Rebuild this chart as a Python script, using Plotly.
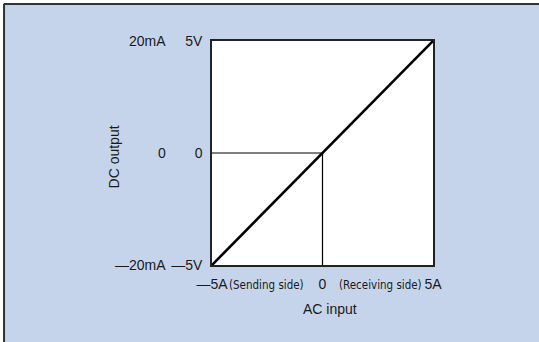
import plotly.graph_objects as go

# AC input (A) vs DC output (V / mA)
ac_input = [-5, 0, 5]
dc_volts = [-5, 0, 5]
dc_ma = [-20, 0, 20]

x_ticktext = ["—5A", "0", "5A"]
y_ticktext = ["—5V", "0", "5V"]
ma_ticktext = ["—20mA", "0", "20mA"]

FONT = "Liberation Sans, Arial, Helvetica, sans-serif"
NARROW = "Liberation Sans Narrow, DejaVu Sans Condensed, Arial Narrow, sans-serif"
INK = "#1a1a1a"
BLUE = "#c6d4eb"

fig = go.Figure()

# guide lines to the zero point
fig.add_trace(go.Scatter(x=[ac_input[0], ac_input[1]], y=[dc_volts[1], dc_volts[1]],
                         mode="lines", line=dict(color="#000000", width=1.2), hoverinfo="skip"))
fig.add_trace(go.Scatter(x=[ac_input[1], ac_input[1]], y=[dc_volts[0], dc_volts[1]],
                         mode="lines", line=dict(color="#000000", width=1.2), hoverinfo="skip"))
# transfer line
fig.add_trace(go.Scatter(x=ac_input, y=dc_volts, mode="lines",
                         line=dict(color="#000000", width=2.6), hoverinfo="skip"))

# outer mA column on the y axis
for v, t in zip(dc_volts, ma_ticktext):
    fig.add_annotation(x=0, xref="paper", y=v, yref="y", text=t, showarrow=False,
                       xanchor="right", xshift=-44, font=dict(size=14, color=INK, family=FONT))

# side notes on the x axis
fig.add_annotation(x=-2.67, y=0, yref="paper", text="(Sending side)", showarrow=False,
                   yanchor="top", yshift=-11, xshift=3, font=dict(size=11.5, color=INK, family=NARROW))
fig.add_annotation(x=2.78, y=0, yref="paper", text="(Receiving side)", showarrow=False,
                   yanchor="top", yshift=-11, xshift=-3, font=dict(size=11.5, color=INK, family=NARROW))

# axis titles
fig.add_annotation(x=0.536, xref="paper", y=0, yref="paper", text="AC input", showarrow=False,
                   yanchor="top", yshift=-34, font=dict(size=14, color=INK, family=FONT))
fig.add_annotation(x=0, xref="paper", y=0.48, yref="paper", text="DC output", showarrow=False,
                   textangle=-90, xanchor="center", xshift=-98, font=dict(size=14, color=INK, family=FONT))

# frame: white strip outside, dark edge on top and left
fig.add_shape(type="rect", xref="paper", yref="paper", x0=-1.0, x1=-0.946, y0=-1.0, y1=1.3,
              fillcolor="white", line_width=0, layer="below")
fig.add_shape(type="rect", xref="paper", yref="paper", x0=-1.0, x1=2.0, y0=1.170, y1=1.3,
              fillcolor="white", line_width=0, layer="below")
fig.add_shape(type="line", xref="paper", yref="paper", x0=-0.941, x1=-0.941, y0=-1.0, y1=1.165,
              line=dict(color="#333333", width=2), layer="below")
fig.add_shape(type="line", xref="paper", yref="paper", x0=-0.941, x1=2.0, y0=1.165, y1=1.165,
              line=dict(color="#333333", width=2), layer="below")

fig.update_layout(
    width=539, height=342,
    margin=dict(l=212, r=106, t=41, b=77),
    paper_bgcolor=BLUE, plot_bgcolor="white",
    showlegend=False,
    font=dict(family=FONT, size=14, color=INK),
    xaxis=dict(range=[-5, 5], tickvals=ac_input, ticktext=x_ticktext, ticks="",
               showgrid=False, zeroline=False, showline=True, mirror=True,
               linecolor="#222222", linewidth=1.5, ticklabelstandoff=5,
               fixedrange=True),
    yaxis=dict(range=[-5, 5], tickvals=dc_volts, ticktext=y_ticktext, ticks="",
               showgrid=False, zeroline=False, showline=True, mirror=True,
               linecolor="#222222", linewidth=1.5, ticklabelstandoff=5,
               fixedrange=True),
)

fig.write_html("out.html", config={"displayModeBar": False},
               post_script="document.body.style.margin='0';document.body.style.overflow='hidden';")
